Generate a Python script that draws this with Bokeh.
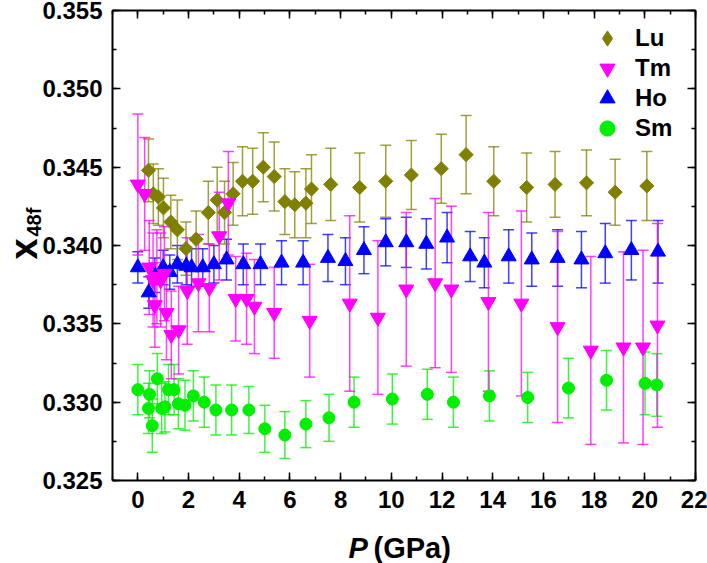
import numpy as np
from bokeh.plotting import figure
from bokeh.models import (ColumnDataSource, Whisker, TeeHead, Range1d, LinearAxis,
                          SingleIntervalTicker, PrintfTickFormatter, Legend, LegendItem, Label,
                          CustomLabelingPolicy)
from bokeh.embed import file_html
from bokeh.resources import INLINE

# ---------------- data ----------------
lu_p = [0.42, 0.61, 0.81, 1.01, 1.30, 1.56, 1.90, 2.30, 2.78, 3.13, 3.42, 3.76, 4.13, 4.53, 4.95,
        5.38, 5.80, 6.19, 6.63, 6.85, 7.61, 8.75, 9.78, 10.79, 11.97, 12.95, 14.04, 15.34, 16.46,
        17.70, 18.83, 20.08]
lu_x = [0.3448, 0.3433, 0.3431, 0.3424, 0.3415, 0.3410, 0.3398, 0.3404, 0.3421, 0.3429, 0.3421,
        0.3433, 0.3441, 0.3441, 0.3450, 0.3444, 0.3428, 0.3426, 0.3427, 0.3436, 0.3439, 0.3437,
        0.3441, 0.3445, 0.3449, 0.3458, 0.3441, 0.3437, 0.3439, 0.3440, 0.3434, 0.3438]
lu_err = [0.0020, 0.0019, 0.0018, 0.0019, 0.0017, 0.0019, 0.0017, 0.0018, 0.0020, 0.0021, 0.0020,
          0.0020, 0.0022, 0.0021, 0.0022, 0.0022, 0.0021, 0.0021, 0.0022, 0.0022, 0.0023, 0.0022,
          0.0023, 0.0022, 0.0022, 0.0025, 0.0022, 0.0022, 0.0021, 0.0021, 0.0021, 0.0022]

tm_p = [0.0, 0.27, 0.45, 0.60, 0.67, 0.75, 0.90, 1.05, 1.13, 1.32, 1.61, 1.95, 2.39, 2.82, 3.21,
        3.57, 3.86, 4.29, 4.60, 5.38, 6.78, 8.36, 9.47, 10.59, 11.73, 12.37, 13.83, 15.13, 16.56,
        17.87, 19.16, 19.93, 20.50]
tm_x = [0.3439, 0.3433, 0.3386, 0.3378, 0.3362, 0.3380, 0.3378, 0.3382, 0.3357, 0.3343, 0.3346,
        0.3371, 0.3376, 0.3373, 0.3406, 0.3427, 0.3366, 0.3366, 0.3361, 0.3357, 0.3352, 0.3363,
        0.3354, 0.3372, 0.3376, 0.3372, 0.3364, 0.3363, 0.3348, 0.3333, 0.3335, 0.3335, 0.3349]
tm_err = [0.0045, 0.0036, 0.0030, 0.0030, 0.0027, 0.0030, 0.0030, 0.0030, 0.0030, 0.0028, 0.0028,
          0.0034, 0.0031, 0.0028, 0.0028, 0.0033, 0.0027, 0.0029, 0.0030, 0.0029, 0.0036, 0.0056,
          0.0049, 0.0049, 0.0054, 0.0053, 0.0057, 0.0059, 0.0061, 0.0060, 0.0061, 0.0062, 0.0065]

ho_p = [0.0, 0.43, 0.67, 1.00, 1.26, 1.56, 1.91, 2.12, 2.56, 3.00, 3.50, 4.16, 4.84, 5.67, 6.52,
        7.50, 8.19, 8.92, 9.78, 10.59, 11.38, 12.20, 13.11, 13.67, 14.63, 15.54, 16.56, 17.50,
        18.44, 19.47, 20.52]
ho_x = [0.3386, 0.3370, 0.3381, 0.3386, 0.3383, 0.3388, 0.3387, 0.3386, 0.3386, 0.3388, 0.3391,
        0.3388, 0.3388, 0.3389, 0.3389, 0.3392, 0.3390, 0.3397, 0.3402, 0.3402, 0.3401, 0.3405,
        0.3393, 0.3389, 0.3393, 0.3391, 0.3392, 0.3391, 0.3395, 0.3397, 0.3396]
ho_err = [0.0010, 0.0010, 0.0011, 0.0011, 0.0011, 0.0012, 0.0012, 0.0012, 0.0012, 0.0012, 0.0013,
          0.0013, 0.0013, 0.0014, 0.0014, 0.0015, 0.0015, 0.0015, 0.0015, 0.0016, 0.0016, 0.0016,
          0.0016, 0.0016, 0.0017, 0.0017, 0.0018, 0.0018, 0.0019, 0.0019, 0.0020]

sm_p = [0.0, 0.42, 0.46, 0.57, 0.77, 0.94, 1.07, 1.21, 1.43, 1.60, 1.86, 2.19, 2.62, 3.08, 3.70,
        4.38, 5.01, 5.80, 6.63, 7.54, 8.53, 10.04, 11.42, 12.45, 13.87, 15.38, 16.99, 18.49,
        20.01, 20.47]
sm_x = [0.3308, 0.3296, 0.3305, 0.3285, 0.3315, 0.3296, 0.3297, 0.3308, 0.3308, 0.3299, 0.3298,
        0.3304, 0.3300, 0.3295, 0.3295, 0.3295, 0.3283, 0.3279, 0.3286, 0.3290, 0.3300, 0.3302,
        0.3305, 0.3300, 0.3304, 0.3303, 0.3309, 0.3314, 0.3312, 0.3311]
sm_err = [0.0016, 0.0016, 0.0015, 0.0017, 0.0016, 0.0016, 0.0016, 0.0016, 0.0016, 0.0016, 0.0016,
          0.0016, 0.0016, 0.0016, 0.0016, 0.0015, 0.0015, 0.0015, 0.0015, 0.0015, 0.0016, 0.0016,
          0.0016, 0.0016, 0.0016, 0.0016, 0.0019, 0.0019, 0.0020, 0.0020]

series_names = ["Lu", "Tm", "Ho", "Sm"]
x_ticks_interval = 2
y_ticks_interval = 0.005
X_MIN, X_MAX = -1, 22
Y_MIN, Y_MAX = 0.325, 0.355

FONT = "Liberation Sans"

# ---------------- layout (pixels) ----------------
W, H = 707, 563
FL, FR, FT, FB = 112, 695, 10, 480          # visible plot box in canvas pixels
KX = (FR - FL) / (X_MAX - X_MIN)            # px per GPa
KY = (FB - FT) / (Y_MAX - Y_MIN)            # px per unit of x48f
x_start = X_MIN - FL / KX
x_end = X_MAX + (W - FR) / KX
y_start = Y_MIN - (H - FB) / KY
y_end = Y_MAX + FT / KY


def sx2d(sx):
    return x_start + sx / KX


def sy2d(sy):
    return y_end - sy / KY


p = figure(width=W, height=H, output_backend="svg", toolbar_location=None, title=None,
           x_range=Range1d(x_start, x_end), y_range=Range1d(y_start, y_end),
           x_axis_location=None, y_axis_location=None,
           min_border=0)
p.grid.visible = False
p.outline_line_color = None
p.background_fill_color = "white"
p.border_fill_color = "white"

xt = SingleIntervalTicker(interval=x_ticks_interval, num_minor_ticks=2)
yt = SingleIntervalTicker(interval=y_ticks_interval, num_minor_ticks=2)

hide_all = CustomLabelingPolicy(code="""
    try { indices.clear() } catch (e) { for (const i of Array.from(indices)) indices.unset(i) }
    return indices
""")


def make_axis(ticker, loc, bounds, show_labels=True, formatter=None):
    ax = LinearAxis(ticker=ticker, fixed_location=loc, bounds=bounds)
    if formatter is not None:
        ax.formatter = formatter
    ax.axis_line_width = 2
    ax.axis_line_color = "black"
    ax.major_tick_in = 8
    ax.major_tick_out = 0
    ax.minor_tick_in = 4
    ax.minor_tick_out = 0
    ax.major_tick_line_width = 1.5
    ax.minor_tick_line_width = 1.5
    ax.major_tick_line_color = "black"
    ax.minor_tick_line_color = "black"
    ax.major_label_text_font = FONT
    ax.major_label_text_font_style = "bold"
    ax.major_label_text_color = "black"
    if show_labels:
        ax.major_label_text_font_size = "24px"
        ax.major_label_standoff = 10
    else:
        ax.major_label_text_font_size = "1px"
        ax.major_label_standoff = 0
        ax.major_label_policy = hide_all
    return ax


p.add_layout(make_axis(xt, Y_MIN, (X_MIN, X_MAX)), "below")
p.add_layout(make_axis(yt, X_MIN, (Y_MIN, Y_MAX), formatter=PrintfTickFormatter(format="%.3f")), "left")
p.add_layout(make_axis(xt, Y_MAX, (X_MIN, X_MAX), show_labels=False), "above")
p.add_layout(make_axis(yt, X_MAX, (Y_MIN, Y_MAX), show_labels=False), "right")

# ---------------- series ----------------
series = {
    "Lu": (lu_p, lu_x, lu_err, "#808000", "square", 10, np.pi / 4),
    "Tm": (tm_p, tm_x, tm_err, "#FF00FF", "inverted_triangle", 15, 0.0),
    "Ho": (ho_p, ho_x, ho_err, "#0000FF", "triangle", 15, 0.0),
    "Sm": (sm_p, sm_x, sm_err, "#00EE00", "circle", 12, 0.0),
}

renderers = {}
sources = {}
for name in ["Sm", "Ho", "Lu", "Tm"]:
    px, py, pe, col, mk, sz, ang = series[name]
    src = ColumnDataSource(dict(x=px, y=py,
                                upper=[a + b for a, b in zip(py, pe)],
                                lower=[a - b for a, b in zip(py, pe)]))
    sources[name] = src
    wh = Whisker(source=src, base="x", upper="upper", lower="lower", dimension="height",
                 line_color=col, line_width=1.5, line_alpha=0.75,
                 upper_head=TeeHead(size=11, line_color=col, line_width=1.5, line_alpha=0.75),
                 lower_head=TeeHead(size=11, line_color=col, line_width=1.5, line_alpha=0.75))
    p.add_layout(wh)
    if name == "Lu":
        # diamond-shaped companion (hidden under the rotated squares) used for the legend key,
        # because legend keys are drawn without rotation
        renderers["Lu_key"] = p.scatter("x", "y", source=src, marker="diamond", size=6,
                                        fill_color=col, line_color=col)
    r = p.scatter("x", "y", source=src, marker=mk, size=sz, angle=ang,
                  fill_color=col, line_color=col, line_width=1)
    renderers[name] = r

legend_renderers = {"Lu": renderers["Lu_key"], "Tm": renderers["Tm"], "Ho": renderers["Ho"],
                    "Sm": renderers["Sm"]}

# one legend block per row so that row spacing and marker size can both match
GLYPH = 38
row_centres = [38, 68, 98, 128]
for name, cy in zip(series_names, row_centres):
    lg = Legend(items=[LegendItem(label=name, renderers=[legend_renderers[name]])],
                location=(607 - GLYPH // 2, H - (cy + GLYPH // 2)),
                border_line_color=None, background_fill_alpha=0,
                label_text_font=FONT, label_text_font_style="bold",
                label_text_font_size="24px", label_text_color="black",
                glyph_width=GLYPH, glyph_height=GLYPH, label_height=24, label_standoff=9,
                spacing=0, padding=0, margin=0)
    p.add_layout(lg, "center")

# ---------------- axis titles ----------------
p.add_layout(Label(x=sx2d(348), y=sy2d(547), text="P", text_font=FONT,
                   text_font_style="bold italic", text_font_size="29px",
                   text_align="left", text_baseline="middle", text_color="black"))
p.add_layout(Label(x=sx2d(373), y=sy2d(547), text="(GPa)", text_font=FONT,
                   text_font_style="bold", text_font_size="29px",
                   text_align="left", text_baseline="middle", text_color="black"))

p.add_layout(Label(x=sx2d(23), y=sy2d(259), text="x", angle=np.pi / 2, text_font=FONT,
                   text_font_style="bold", text_font_size="38px",
                   text_align="left", text_baseline="middle", text_color="black"))
p.add_layout(Label(x=sx2d(33), y=sy2d(236), text="48f", angle=np.pi / 2, text_font=FONT,
                   text_font_style="bold", text_font_size="20px",
                   text_align="left", text_baseline="middle", text_color="black"))

open("out.html", "w").write(file_html(p, INLINE))
